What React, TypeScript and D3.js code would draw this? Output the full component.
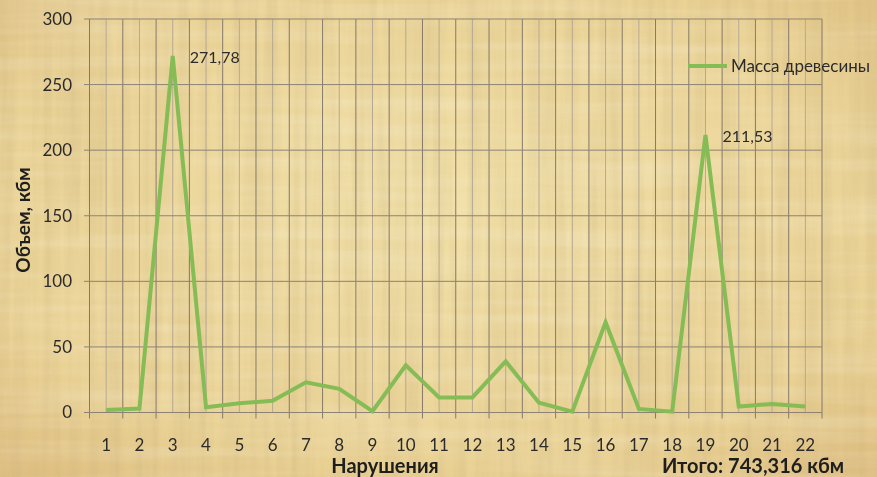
import { line, scaleBand, scaleLinear } from "d3";

const categories = ["1", "2", "3", "4", "5", "6", "7", "8", "9", "10", "11", "12", "13", "14", "15", "16", "17", "18", "19", "20", "21", "22"];
const woodVolume = [2, 3, 271.78, 4, 7, 9, 23, 18, 1, 36, 11.5, 11.5, 39, 7.5, 0.6, 68.8, 2.7, 0.6, 211.53, 4.5, 6.5, 4.5];
const yTicks = [0, 50, 100, 150, 200, 250, 300];
const labelled = [
  { index: 2, text: "271,78" },
  { index: 18, text: "211,53" },
];
const seriesName = "Масса древесины";
const xTitle = "Нарушения";
const yTitle = "Объем, кбм";
const totalText = "Итого: 743,316 кбм";

const W = 877;
const H = 477;
const font = "Lato, 'Open Sans', sans-serif";

export default function App() {
  const x = scaleBand<string>().domain(categories).range([89.5, 822]).padding(0);
  const y = scaleLinear().domain([0, 300]).range([412.5, 19]);
  const bw = x.bandwidth();
  const cx = (i: number) => (x(categories[i]) ?? 0) + bw / 2;

  const path = line<number>()
    .x((_, i) => cx(i))
    .y((d) => y(d))(woodVolume);

  const bounds = [...categories.map((c) => x(c) ?? 0), 822];

  return (
    <div style={{ position: "fixed", left: 0, top: 0 }}>
      <svg width={W} height={H} viewBox={`0 0 ${W} ${H}`} style={{ display: "block" }}>
        <defs>
          <radialGradient id="bg" cx="50%" cy="45%" r="75%">
            <stop offset="0%" stopColor="#F1E0A8" />
            <stop offset="70%" stopColor="#EAD295" />
            <stop offset="100%" stopColor="#DDBC7E" />
          </radialGradient>
          <filter id="fibreV" x="0" y="0" width="100%" height="100%">
            <feTurbulence type="fractalNoise" baseFrequency="0.09 0.004" numOctaves={3} seed={4} />
            <feColorMatrix type="matrix" values="0 0 0 0 0.55  0 0 0 0 0.42  0 0 0 0 0.2  0 0 0 -1.1 0.75" />
          </filter>
          <filter id="fibreH" x="0" y="0" width="100%" height="100%">
            <feTurbulence type="fractalNoise" baseFrequency="0.004 0.07" numOctaves={3} seed={9} />
            <feColorMatrix type="matrix" values="0 0 0 0 1  0 0 0 0 0.97  0 0 0 0 0.85  0 0 0 -1.2 0.72" />
          </filter>
        </defs>
        <rect width={W} height={H} fill="url(#bg)" />
        <rect width={W} height={H} filter="url(#fibreV)" opacity={0.45} />
        <rect width={W} height={H} filter="url(#fibreH)" opacity={0.35} />

        {/* minor verticals at category centres */}
        {categories.map((c, i) => (
          <line key={"m" + c} x1={cx(i)} x2={cx(i)} y1={y(300)} y2={y(0)} stroke="#B5A894" strokeWidth={1} />
        ))}
        {/* major verticals at band bounds */}
        {bounds.map((b, i) => (
          <line key={"b" + i} x1={b} x2={b} y1={y(300)} y2={y(0) + 6} stroke="#85796B" strokeWidth={1} />
        ))}
        {yTicks.map((t) => (
          <line key={"h" + t} x1={84} x2={822} y1={y(t)} y2={y(t)} stroke="#8C8375" strokeWidth={1} />
        ))}

        <path d={path ?? ""} fill="none" stroke="#86BC55" strokeWidth={4} strokeLinejoin="miter" />

        {yTicks.map((t) => (
          <text key={"yt" + t} x={72} y={y(t)} dy="0.35em" textAnchor="end" fontFamily={font} fontSize={17} fill="#2B2B2B">
            {t}
          </text>
        ))}
        {categories.map((c, i) => (
          <text key={"xt" + c} x={cx(i)} y={445} dy="0.35em" textAnchor="middle" fontFamily={font} fontSize={17} fill="#2B2B2B">
            {c}
          </text>
        ))}

        {labelled.map((l) => (
          <text key={l.text} x={cx(l.index) + 17} y={y(woodVolume[l.index]) + 1} dy="0.35em" fontFamily={font} fontSize={16} fill="#2B2B2B">
            {l.text}
          </text>
        ))}

        <line x1={688} x2={727} y1={66} y2={66} stroke="#86BC55" strokeWidth={4} />
        <text x={731} y={66} dy="0.35em" fontFamily={font} fontSize={17} fill="#2B2B2B">
          {seriesName}
        </text>

        <text x={385} y={466} dy="0.35em" textAnchor="middle" fontFamily={font} fontSize={20} fontWeight="bold" fill="#1E1E1E">
          {xTitle}
        </text>
        <text x={753} y={466} dy="0.35em" textAnchor="middle" fontFamily={font} fontSize={20} fontWeight="bold" fill="#1E1E1E">
          {totalText}
        </text>
        <text transform={`translate(23, 220) rotate(-90)`} dy="0.35em" textAnchor="middle" fontFamily={font} fontSize={19} fontWeight="bold" fill="#1E1E1E">
          {yTitle}
        </text>
      </svg>
    </div>
  );
}
